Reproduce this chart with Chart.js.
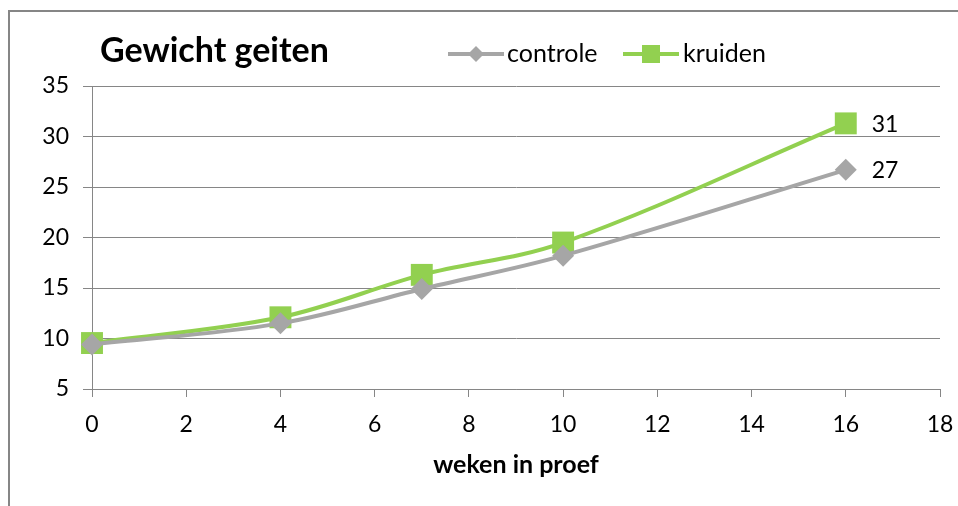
<!DOCTYPE html>
<html>
<head>
<meta charset="utf-8">
<script src="https://cdn.jsdelivr.net/npm/chart.js@4.4.1/dist/chart.umd.min.js"></script>
<style>
    html, body { margin: 0; padding: 0; background: #fff; }
    #wrap { width: 958px; height: 506px; position: relative; }
</style>
</head>
<body>
<div id="wrap"><canvas id="goatChart" width="958" height="506"></canvas></div>
<script>
// weeks in trial
const weeks = [0, 4, 7, 10, 16];
const controle = [9.4, 11.5, 14.9, 18.2, 26.7];
const kruiden = [9.55, 12.1, 16.3, 19.5, 31.3];
const endLabels = ['27', '31'];
const xTicks = [0, 2, 4, 6, 8, 10, 12, 14, 16, 18];
const yTicks = [5, 10, 15, 20, 25, 30, 35];

const grey = '#a6a6a6';
const green = '#92d050';
const font = 'Lato, "Open Sans", sans-serif';

function toPoints(values) {
    return weeks.map(function (w, i) { return { x: w, y: values[i] }; });
}

// little line+marker icon for the legend
function legendIcon(color, style) {
    const c = document.createElement('canvas');
    c.width = 56;
    c.height = 20;
    const g = c.getContext('2d');
    g.strokeStyle = color;
    g.lineWidth = 4;
    g.beginPath();
    g.moveTo(0, 10);
    g.lineTo(56, 10);
    g.stroke();
    g.fillStyle = color;
    g.beginPath();
    if (style === 'diamond') {
        g.moveTo(28, 2); g.lineTo(36, 10); g.lineTo(28, 18); g.lineTo(20, 10);
    } else {
        g.rect(19, 1, 18, 18);
    }
    g.fill();
    return c;
}

// frame, title, legend and end labels
const decorPlugin = {
    id: 'decor',
    beforeDraw: function (chart) {
        const ctx = chart.ctx;
        ctx.save();
        ctx.strokeStyle = '#868686';
        ctx.lineWidth = 2;
        ctx.beginPath();
        ctx.moveTo(9, 506);
        ctx.lineTo(9, 11);
        ctx.lineTo(958, 11);
        ctx.stroke();
        ctx.restore();
    },
    afterDraw: function (chart) {
        const ctx = chart.ctx;
        ctx.save();
        ctx.fillStyle = '#000';
        ctx.textBaseline = 'middle';
        ctx.textAlign = 'left';
        ctx.font = 'bold 34px ' + font;
        ctx.fillText('Gewicht geiten', 100, 51);

        ctx.font = '25px ' + font;
        ctx.drawImage(legendIcon(grey, 'diamond'), 448, 44);
        ctx.fillText('controle', 507, 54);
        ctx.drawImage(legendIcon(green, 'square'), 623, 44);
        ctx.fillText('kruiden', 683, 54);

        // value labels at the last point of each series
        ctx.font = '23px ' + font;
        chart.data.datasets.forEach(function (ds, i) {
            const meta = chart.getDatasetMeta(i);
            const pt = meta.data[meta.data.length - 1];
            ctx.fillText(endLabels[i], pt.x + 26, pt.y + 1);
        });
        ctx.restore();
    }
};

const config = {
    type: 'line',
    data: {
        datasets: [{
            label: 'controle',
            data: toPoints(controle),
            borderColor: grey,
            backgroundColor: grey,
            borderWidth: 4,
            pointStyle: 'rectRot',
            pointRadius: 11,
            pointHoverRadius: 11,
            pointBorderWidth: 0,
            tension: 0.35,
            clip: false,
            fill: false
        }, {
            label: 'kruiden',
            data: toPoints(kruiden),
            borderColor: green,
            backgroundColor: green,
            borderWidth: 4,
            pointStyle: 'rect',
            pointRadius: 15.5,
            pointHoverRadius: 15.5,
            pointBorderWidth: 0,
            tension: 0.35,
            clip: false,
            fill: false
        }]
    },
    options: {
        responsive: false,
        animation: false,
        layout: { padding: { left: 0, right: 18, top: 86, bottom: 22 } },
        plugins: {
            legend: { display: false },
            title: { display: false },
            tooltip: { enabled: false }
        },
        scales: {
            x: {
                type: 'linear',
                min: 0,
                max: 18,
                afterBuildTicks: function (scale) {
                    scale.ticks = xTicks.map(function (v) { return { value: v }; });
                },
                afterFit: function (scale) {
                    scale.height = 95;
                    scale.paddingLeft = 0;
                    scale.paddingRight = 0;
                },
                grid: {
                    drawOnChartArea: false,
                    color: '#868686',
                    tickLength: 8
                },
                border: { color: '#868686', width: 1 },
                ticks: {
                    color: '#000',
                    font: { family: font, size: 23 },
                    padding: 14,
                    maxRotation: 0
                },
                title: {
                    display: true,
                    text: 'weken in proef',
                    color: '#000',
                    font: { family: font, size: 25, weight: 'bold' },
                    padding: { top: 4, bottom: 4 }
                }
            },
            y: {
                min: 5,
                max: 35,
                afterBuildTicks: function (scale) {
                    scale.ticks = yTicks.map(function (v) { return { value: v }; });
                },
                afterFit: function (scale) {
                    scale.width = 92;
                    scale.paddingTop = 0;
                    scale.paddingBottom = 0;
                },
                grid: {
                    color: '#868686',
                    tickLength: 9
                },
                border: { color: '#868686', width: 1 },
                ticks: {
                    color: '#000',
                    font: { family: font, size: 23 },
                    padding: 14
                }
            }
        }
    },
    plugins: [decorPlugin]
};

const goatChart = new Chart(document.getElementById('goatChart'), config);
</script>
</body>
</html>
